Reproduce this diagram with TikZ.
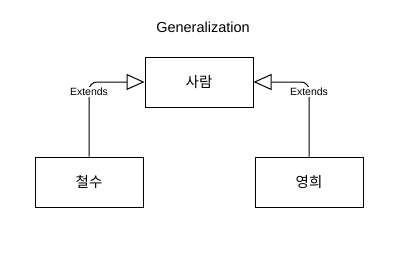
\documentclass[tikz,border=0pt]{standalone}
\usepackage{fontspec}
\setmainfont{Liberation Sans}
\newfontfamily\kofont{Noto Sans CJK KR}
\usetikzlibrary{arrows.meta,positioning}

\begin{document}
\begin{tikzpicture}[x=1pt,y=-1pt,line width=1pt,
  cls/.style={draw,minimum width=108pt,minimum height=50pt,font=\kofont\fontsize{14.5}{16}\selectfont},
  ext/.style={font=\fontsize{10.5}{12}\selectfont,fill=white,inner sep=1pt},
  inh/.style={-{Triangle[open,length=18pt,width=16pt]},rounded corners=8pt}]
  \useasboundingbox (0,0) rectangle (398,255);
  \node[font=\fontsize{14.5}{16}\selectfont] (title) at (203,27) {Generalization};
  \node[cls] (person) at (199,82) {사람};
  \node[cls] (cs) at (89,182) {철수};
  \node[cls] (yh) at (309,182) {영희};
  \draw[inh] (cs.north) |- (person.west);
  \draw[inh] (yh.north) |- (person.east);
  \node[ext] (l1) at (89,92) {Extends};
  \node[ext] (l2) at (309,92) {Extends};
\end{tikzpicture}
\end{document}
